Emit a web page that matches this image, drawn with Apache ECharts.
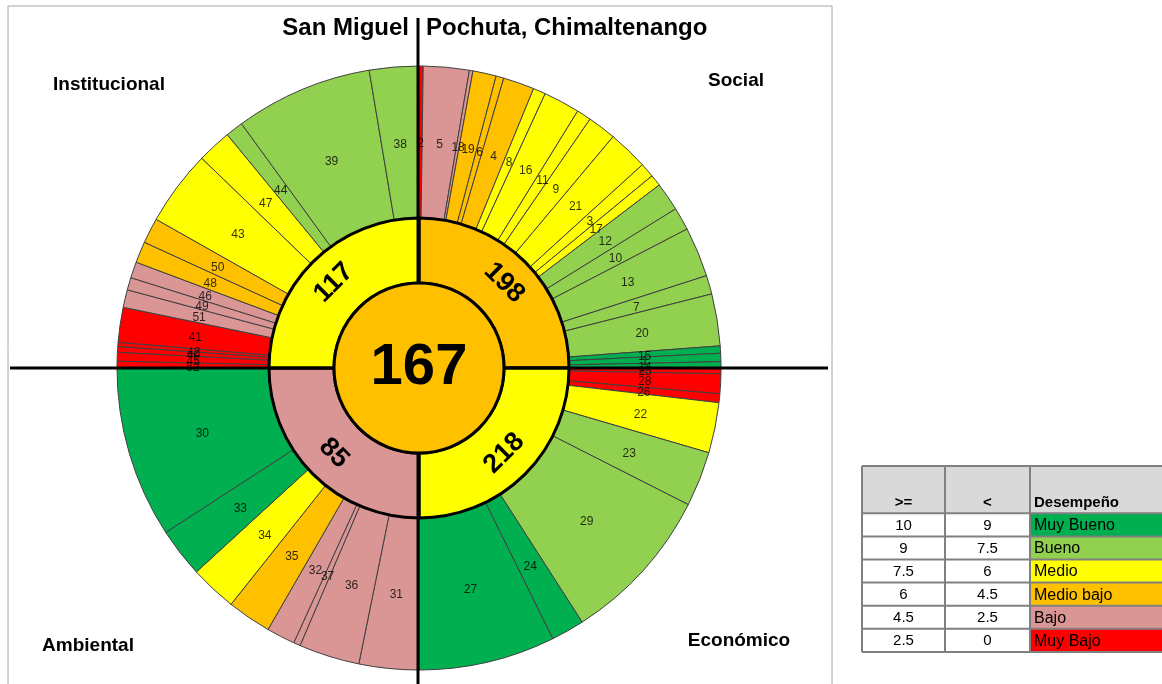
<!DOCTYPE html>
<html>
<head>
<meta charset="utf-8">
<script src="https://cdn.jsdelivr.net/npm/echarts@6/dist/echarts.min.js"></script>
<style>
html, body { margin: 0; padding: 0; background: #fff; }
#chart { width: 1162px; height: 684px; }
</style>
</head>
<body>
<div id="chart"></div>
<script>
var chart = echarts.init(document.getElementById("chart"));

// niveles de desempeño (tabla)
var niveles = ['Muy Bueno', 'Bueno', 'Medio', 'Medio bajo', 'Bajo', 'Muy Bajo'];
var colores = ['#00B050', '#92D050', '#FFFF00', '#FFC000', '#DA9694', '#FF0000'];
var limiteMayor = ['10', '9', '7.5', '6', '4.5', '2.5'];
var limiteMenor = ['9', '7.5', '6', '4.5', '2.5', '0'];

// dimensiones (anillo medio), en orden horario desde las 12
var dimensiones = ['Social', 'Económico', 'Ambiental', 'Institucional'];
var puntajeDim = [198, 218, 85, 117];
var nivelDim = [3, 2, 4, 2];
var puntajeTotal = 167;
var nivelTotal = 3;

// indicadores: numero, peso (ancho en grados), nivel de desempeño
var socialInd = [2, 5, 18, 19, 6, 4, 8, 16, 11, 9, 21, 3, 17, 12, 10, 13, 7, 20, 15, 1, 14];
var socialPeso = [0.8, 8.8, 0.7, 4.5, 1.5, 6.0, 2.4, 7.0, 2.8, 5.5, 7.7, 2.8, 2.2, 5.5, 4.4, 9.6, 3.6, 10.0, 1.4, 1.6, 1.2];
var socialNivel = [5, 4, 4, 3, 3, 3, 2, 2, 2, 2, 2, 2, 2, 1, 1, 1, 1, 1, 0, 0, 0];

var economicoInd = [25, 28, 26, 22, 23, 29, 24, 27];
var economicoPeso = [1.1, 3.8, 1.7, 9.7, 10.6, 30.4, 6.4, 26.3];
var economicoNivel = [5, 5, 5, 2, 1, 1, 0, 0];

var ambientalInd = [31, 36, 37, 32, 35, 34, 33, 30];
var ambientalPeso = [11.5, 11.7, 1.3, 5.5, 8.5, 9.0, 9.5, 33.0];
var ambientalNivel = [4, 4, 4, 4, 3, 2, 0, 0];

var institucionalInd = [52, 45, 40, 42, 41, 51, 49, 46, 48, 50, 43, 47, 44, 39, 38];
var institucionalPeso = [1.3, 1.7, 1.1, 0.8, 6.7, 3.4, 2.4, 3.1, 4.1, 4.9, 14.5, 6.6, 3.4, 26.5, 9.5];
var institucionalNivel = [5, 5, 5, 5, 5, 4, 4, 4, 3, 3, 2, 2, 1, 1, 1];

var fuente = 'Liberation Sans';
var centro = [419, 368];
var radioExt = [150, 302];

function armarIndicadores(ind, peso, nivel) {
    return ind.map(function (n, i) {
        return {
            name: String(n),
            value: peso[i],
            itemStyle: { color: colores[nivel[i]] }
        };
    });
}

var datosExternos = [].concat(
    armarIndicadores(socialInd, socialPeso, socialNivel),
    armarIndicadores(economicoInd, economicoPeso, economicoNivel),
    armarIndicadores(ambientalInd, ambientalPeso, ambientalNivel),
    armarIndicadores(institucionalInd, institucionalPeso, institucionalNivel)
);

// etiquetas de los indicadores en el centro de cada sector (coordenadas polares)
var totalPeso = 0;
datosExternos.forEach(function (d) { totalPeso += d.value; });
var acumulado = 0;
var etiquetas = datosExternos.map(function (d) {
    var medio = (acumulado + d.value / 2) / totalPeso * 360;
    acumulado += d.value;
    return { name: d.name, value: [(radioExt[0] + radioExt[1]) / 2, medio] };
});

var datosMedios = puntajeDim.map(function (p, i) {
    return { name: String(p), value: 1, itemStyle: { color: colores[nivelDim[i]] } };
});

// tabla de desempeño
var tablaX = [862, 945, 1030, 1166];
var tablaY0 = 466, tablaYH = 513.3, filaH = 23.1;
var tabla = [];
tabla.push({
    type: 'rect', shape: { x: tablaX[0], y: tablaY0, width: tablaX[3] - tablaX[0], height: tablaYH - tablaY0 },
    style: { fill: '#D9D9D9' }
});
niveles.forEach(function (nv, i) {
    var y = tablaYH + i * filaH;
    tabla.push({
        type: 'rect', shape: { x: tablaX[2], y: y, width: tablaX[3] - tablaX[2], height: filaH },
        style: { fill: colores[i] }
    });
    tabla.push({
        type: 'text', x: (tablaX[0] + tablaX[1]) / 2, y: y + filaH / 2 + 1,
        style: { text: limiteMayor[i], align: 'center', verticalAlign: 'middle', font: '15px ' + fuente, fill: '#000' }
    });
    tabla.push({
        type: 'text', x: (tablaX[1] + tablaX[2]) / 2, y: y + filaH / 2 + 1,
        style: { text: limiteMenor[i], align: 'center', verticalAlign: 'middle', font: '15px ' + fuente, fill: '#000' }
    });
    tabla.push({
        type: 'text', x: tablaX[2] + 4, y: y + filaH / 2 + 1,
        style: { text: nv, align: 'left', verticalAlign: 'middle', font: '16px ' + fuente, fill: '#000' }
    });
});
var tablaYFin = tablaYH + niveles.length * filaH;
[tablaY0, tablaYH].concat(niveles.map(function (n, i) { return tablaYH + (i + 1) * filaH; })).forEach(function (y) {
    tabla.push({
        type: 'line', shape: { x1: tablaX[0], y1: y, x2: tablaX[3], y2: y },
        style: { stroke: '#808080', lineWidth: 2 }
    });
});
tablaX.slice(0, 3).forEach(function (x) {
    tabla.push({
        type: 'line', shape: { x1: x, y1: tablaY0, x2: x, y2: tablaYFin },
        style: { stroke: '#808080', lineWidth: 2 }
    });
});
tabla.push({ type: 'text', x: (tablaX[0] + tablaX[1]) / 2, y: 503, style: { text: '>=', align: 'center', verticalAlign: 'middle', font: 'bold 15px ' + fuente, fill: '#000' } });
tabla.push({ type: 'text', x: (tablaX[1] + tablaX[2]) / 2, y: 503, style: { text: '<', align: 'center', verticalAlign: 'middle', font: 'bold 15px ' + fuente, fill: '#000' } });
tabla.push({ type: 'text', x: tablaX[2] + 4, y: 503, style: { text: 'Desempeño', align: 'left', verticalAlign: 'middle', font: 'bold 15px ' + fuente, fill: '#000' } });

var option = {
    backgroundColor: '#fff',
    animation: false,
    polar: { center: centro, radius: [0, radioExt[1]] },
    angleAxis: { type: 'value', min: 0, max: 360, startAngle: 90, clockwise: true, show: false },
    radiusAxis: { type: 'value', min: 0, max: radioExt[1], show: false },
    series: [
        {
            type: 'pie',
            silent: true,
            center: centro,
            radius: radioExt,
            startAngle: 90,
            clockwise: true,
            avoidLabelOverlap: false,
            z: 2,
            itemStyle: { borderColor: '#404040', borderWidth: 1 },
            label: { show: false },
            labelLine: { show: false },
            data: datosExternos
        },
        {
            type: 'scatter',
            coordinateSystem: 'polar',
            silent: true,
            z: 3,
            symbolSize: 1,
            itemStyle: { color: 'rgba(0,0,0,0)' },
            label: {
                show: true,
                position: 'inside',
                formatter: '{b}',
                color: '#000',
                fontSize: 12,
                fontFamily: fuente,
                offset: [0, 2]
            },
            data: etiquetas
        },
        {
            type: 'pie',
            silent: true,
            center: centro,
            radius: [85, 150],
            startAngle: 90,
            clockwise: true,
            avoidLabelOverlap: false,
            z: 2,
            itemStyle: { borderColor: '#000', borderWidth: 3 },
            label: {
                show: true,
                position: 'inside',
                rotate: 'tangential',
                formatter: '{b}',
                color: '#000',
                fontSize: 27,
                fontWeight: 'bold',
                fontFamily: fuente
            },
            labelLine: { show: false },
            data: datosMedios
        },
        {
            type: 'pie',
            silent: true,
            center: centro,
            radius: [0, 85],
            z: 6,
            itemStyle: { borderColor: '#000', borderWidth: 3 },
            label: {
                show: true,
                position: 'center',
                formatter: '{b}',
                color: '#000',
                fontSize: 58,
                fontWeight: 'bold',
                fontFamily: fuente
            },
            labelLine: { show: false },
            data: [{ name: String(puntajeTotal), value: 1, itemStyle: { color: colores[nivelTotal] } }]
        }
    ],
    graphic: [
        {
            type: 'rect', z: 1, silent: true,
            shape: { x: 8, y: 6, width: 824, height: 700 },
            style: { fill: null, stroke: '#A6A6A6', lineWidth: 1 }
        },
        {
            type: 'line', z: 4, silent: true,
            shape: { x1: 418, y1: 18, x2: 418, y2: 684 },
            style: { stroke: '#000', lineWidth: 3 }
        },
        {
            type: 'line', z: 4, silent: true,
            shape: { x1: 10, y1: 368, x2: 828, y2: 368 },
            style: { stroke: '#000', lineWidth: 3 }
        },
        // titulo partido para que la linea vertical pase por el espacio
        {
            type: 'text', z: 5, x: 409, y: 28,
            style: { text: 'San Miguel', align: 'right', verticalAlign: 'middle', font: 'bold 24px ' + fuente, fill: '#000' }
        },
        {
            type: 'text', z: 5, x: 426, y: 28,
            style: { text: 'Pochuta, Chimaltenango', align: 'left', verticalAlign: 'middle', font: 'bold 24px ' + fuente, fill: '#000' }
        },
        { type: 'text', z: 5, x: 109, y: 85, style: { text: 'Institucional', align: 'center', verticalAlign: 'middle', font: 'bold 19px ' + fuente, fill: '#000' } },
        { type: 'text', z: 5, x: 736, y: 81, style: { text: 'Social', align: 'center', verticalAlign: 'middle', font: 'bold 19px ' + fuente, fill: '#000' } },
        { type: 'text', z: 5, x: 88, y: 646, style: { text: 'Ambiental', align: 'center', verticalAlign: 'middle', font: 'bold 19px ' + fuente, fill: '#000' } },
        { type: 'text', z: 5, x: 739, y: 641, style: { text: 'Económico', align: 'center', verticalAlign: 'middle', font: 'bold 19px ' + fuente, fill: '#000' } }
    ].concat(tabla)
};

chart.setOption(option);
window.addEventListener("resize", function () {
    chart.resize();
});
</script>
</body>
</html>
